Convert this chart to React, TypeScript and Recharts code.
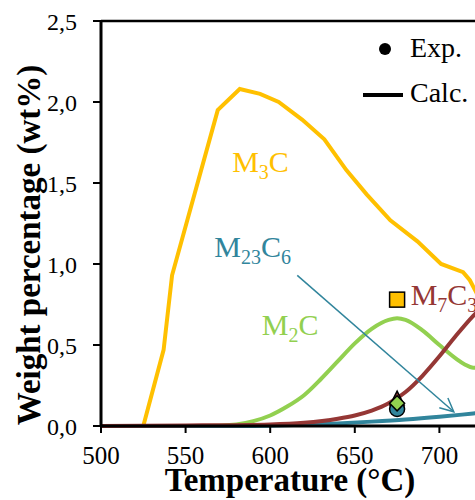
import React from "react";
import {
  ComposedChart,
  Line,
  Scatter,
  XAxis,
  YAxis,
  ReferenceLine,
  ReferenceDot,
  Legend,
} from "recharts";

const SERIF = "Liberation Serif, Times New Roman, serif";
const YELLOW = "#FFC000";
const GREEN = "#92D050";
const RED = "#953735";
const TEAL = "#31859C";

const xTicks = [500, 550, 600, 650, 700, 750];
const yTicks = [0, 0.5, 1, 1.5, 2, 2.5];

// calculated phase fractions (wt%)
const m3cTemps = [500, 525, 537, 542, 569, 582, 594, 605, 619, 632, 645, 657, 671, 687, 701, 714, 718, 722, 730, 740, 745];
const m3cValues = [0, 0, 0.47, 0.93, 1.95, 2.08, 2.05, 2.0, 1.89, 1.77, 1.58, 1.43, 1.27, 1.14, 1.0, 0.95, 0.9, 0.82, 0.5, 0.1, 0];

const m2cTemps = [500, 560, 580, 590, 600, 610, 620, 630, 640, 650, 660, 670, 675, 680, 690, 700, 710, 715, 720, 730];
const m2cValues = [0, 0, 0.01, 0.03, 0.065, 0.12, 0.19, 0.29, 0.4, 0.51, 0.6, 0.655, 0.665, 0.655, 0.59, 0.5, 0.415, 0.38, 0.36, 0.36];

const m7c3Temps = [500, 550, 600, 620, 640, 650, 660, 670, 680, 690, 700, 710, 720, 730];
const m7c3Values = [0, 0.003, 0.01, 0.02, 0.045, 0.065, 0.095, 0.14, 0.21, 0.31, 0.43, 0.56, 0.68, 0.78];

const m23c6Temps = [500, 580, 600, 620, 640, 660, 680, 700, 720, 730];
const m23c6Values = [0, 0, 0.002, 0.008, 0.016, 0.027, 0.04, 0.057, 0.077, 0.087];

// experimental values at 675 °C
const expTemp = 675;
const expM23C6 = 0.105;
const expM7C3 = 0.16;
const expM2C = 0.14;
const expM3C = 0.78;

const pts = (ts: number[], vs: number[]) => ts.map((t, i) => ({ t, v: vs[i] }));

const m3cData = pts(m3cTemps, m3cValues);
const m2cData = pts(m2cTemps, m2cValues);
const m7c3Data = pts(m7c3Temps, m7c3Values);
const m23c6Data = pts(m23c6Temps, m23c6Values);

type Part = [string, boolean];

const phaseText = (parts: Part[], color: string) => (props: any) => {
  let sub = false;
  return (
    <text x={props.cx} y={props.cy} fill={color} fontFamily={SERIF} fontSize={30}>
      {parts.map(([s, isSub], i) => {
        const dy = isSub === sub ? 0 : isSub ? 7 : -7;
        sub = isSub;
        return (
          <tspan key={i} dy={dy} fontSize={isSub ? 20 : 30}>
            {s}
          </tspan>
        );
      })}
    </text>
  );
};

const arrowShape = (props: any) => {
  const { x1, y1, x2, y2 } = props;
  const ang = Math.atan2(y2 - y1, x2 - x1);
  const len = 15;
  const spread = 0.45;
  const ax = x2 - len * Math.cos(ang - spread);
  const ay = y2 - len * Math.sin(ang - spread);
  const bx = x2 - len * Math.cos(ang + spread);
  const by = y2 - len * Math.sin(ang + spread);
  return (
    <g>
      <line x1={x1} y1={y1} x2={x2} y2={y2} stroke={TEAL} strokeWidth={1.5} />
      <polyline points={`${ax},${ay} ${x2},${y2} ${bx},${by}`} fill="none" stroke={TEAL} strokeWidth={1.5} />
    </g>
  );
};

const renderXTick = (p: any) => (
  <text
    key={`xt-${p.index}`}
    x={p.x}
    y={p.y}
    dy={17}
    textAnchor="middle"
    style={{ fontFamily: SERIF, fontSize: 25 }}
    fill="#000"
  >
    {p.payload.value}
  </text>
);

const renderYTick = (p: any) => (
  <text
    key={`yt-${p.index}`}
    x={p.x}
    y={p.y}
    dy={9}
    textAnchor="end"
    style={{ fontFamily: SERIF, fontSize: 24 }}
    fill="#000"
  >
    {Number(p.payload.value).toFixed(1).replace(".", ",")}
  </text>
);

const LegendBox = () => (
  <svg width={120} height={100}>
    <circle cx={30} cy={29} r={6} fill="#000" />
    <text x={55} y={37} fontFamily={SERIF} fontSize={28} fill="#000">
      Exp.
    </text>
    <line x1={8} x2={48} y1={75} y2={75} stroke="#000" strokeWidth={4} />
    <text x={55} y={82} fontFamily={SERIF} fontSize={28} fill="#000">
      Calc.
    </text>
  </svg>
);

export default function App() {
  return (
    <div
      style={{
        position: "fixed",
        left: 0,
        top: 0,
        width: 475,
        height: 500,
        overflow: "hidden",
        background: "#fff",
      }}
    >
      <ComposedChart width={540} height={500} margin={{ top: 21, right: 16, left: 0, bottom: 0 }}>
        <XAxis
          type="number"
          dataKey="t"
          domain={[500, 750]}
          ticks={xTicks}
          height={74}
          tick={renderXTick}
          tickSize={7}
          tickMargin={14}
          tickLine={{ stroke: "#000", strokeWidth: 2 }}
          axisLine={{ stroke: "#000", strokeWidth: 3 }}
          label={(p: any) => (
            <text
              x={(p.viewBox?.x ?? 101) + 189}
              y={491}
              textAnchor="middle"
              fontFamily={SERIF}
              fontWeight="bold"
              fontSize={33}
              fill="#000"
            >
              Temperature (°C)
            </text>
          )}
        />
        <YAxis
          type="number"
          dataKey="v"
          domain={[0, 2.5]}
          ticks={yTicks}
          width={101}
          tick={renderYTick}
          tickSize={8}
          tickMargin={16}
          tickLine={{ stroke: "#000", strokeWidth: 2 }}
          axisLine={{ stroke: "#000", strokeWidth: 3 }}
          label={() => (
            <text
              transform="translate(40,245) rotate(-90)"
              textAnchor="middle"
              fontFamily={SERIF}
              fontWeight="bold"
              fontSize={33}
              fill="#000"
            >
              Weight percentage (wt%)
            </text>
          )}
        />
        <ReferenceLine y={2.5} stroke="#000" strokeWidth={2.5} />
        <Legend
          layout="horizontal"
          verticalAlign="middle"
          align="center"
          wrapperStyle={{ top: 20, left: 355, width: 120, height: 100 }}
          content={() => <LegendBox />}
        />

        <Line data={m3cData} dataKey="v" type="linear" stroke={YELLOW} strokeWidth={4} dot={false} isAnimationActive={false} />
        <Line data={m2cData} dataKey="v" type="monotone" stroke={GREEN} strokeWidth={4} dot={false} isAnimationActive={false} />
        <Line data={m23c6Data} dataKey="v" type="monotone" stroke={TEAL} strokeWidth={4} dot={false} isAnimationActive={false} />
        <Line data={m7c3Data} dataKey="v" type="monotone" stroke={RED} strokeWidth={4} dot={false} isAnimationActive={false} />

        <ReferenceLine
          segment={[
            { x: 616, y: 0.93 },
            { x: 708.5, y: 0.088 },
          ]}
          shape={arrowShape}
        />

        <ReferenceDot x={577.5} y={1.57} r={0} shape={phaseText([["M", false], ["3", true], ["C", false]], YELLOW)} />
        <ReferenceDot x={567} y={1.045} r={0} shape={phaseText([["M", false], ["23", true], ["C", false], ["6", true]], TEAL)} />
        <ReferenceDot x={595} y={0.562} r={0} shape={phaseText([["M", false], ["2", true], ["C", false]], GREEN)} />
        <ReferenceDot x={683} y={0.747} r={0} shape={phaseText([["M", false], ["7", true], ["C", false], ["3", true]], RED)} />

        <Scatter
          data={[{ t: expTemp, v: expM23C6 }]}
          dataKey="v"
          isAnimationActive={false}
          shape={(p: any) => <circle cx={p.cx} cy={p.cy} r={7.5} fill={TEAL} stroke="#000" strokeWidth={1.5} />}
        />
        <Scatter
          data={[{ t: expTemp, v: expM7C3 }]}
          dataKey="v"
          isAnimationActive={false}
          shape={(p: any) => (
            <polygon
              points={`${p.cx},${p.cy - 9} ${p.cx + 7},${p.cy + 5} ${p.cx - 7},${p.cy + 5}`}
              fill={RED}
              stroke="#000"
              strokeWidth={1.5}
            />
          )}
        />
        <Scatter
          data={[{ t: expTemp, v: expM2C }]}
          dataKey="v"
          isAnimationActive={false}
          shape={(p: any) => (
            <polygon
              points={`${p.cx},${p.cy - 7.5} ${p.cx + 7.5},${p.cy} ${p.cx},${p.cy + 7.5} ${p.cx - 7.5},${p.cy}`}
              fill={GREEN}
              stroke="#000"
              strokeWidth={1.5}
            />
          )}
        />
        <Scatter
          data={[{ t: expTemp, v: expM3C }]}
          dataKey="v"
          isAnimationActive={false}
          shape={(p: any) => (
            <rect x={p.cx - 7.5} y={p.cy - 7.5} width={15} height={15} fill={YELLOW} stroke="#000" strokeWidth={1.5} />
          )}
        />
      </ComposedChart>
    </div>
  );
}
